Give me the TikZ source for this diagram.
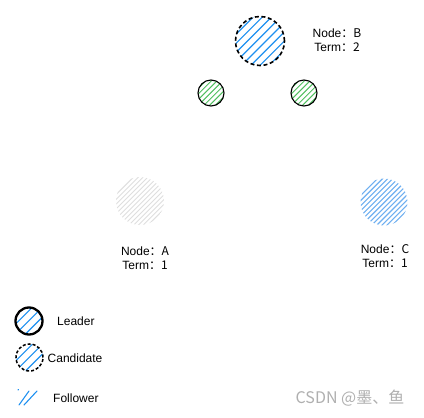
\documentclass[tikz,border=0pt]{standalone}
\usepackage{fontspec}
\setmainfont{Liberation Sans}
\newfontfamily\cjk{Noto Sans CJK SC}
\definecolor{hblue}{RGB}{30,144,240}
\definecolor{hlblue}{RGB}{110,175,240}
\definecolor{hgreen}{RGB}{80,190,95}
\definecolor{hgray}{RGB}{222,222,222}
\definecolor{wm}{RGB}{175,175,175}
\tikzset{
  hatchfill/.style 2 args={path picture={
    \foreach \k [evaluate=\k as \d using {-20+\k*#2/1.4142}] in {0,...,20}
      \draw[solid,#1,line cap=round] ([shift={({\d-45},{\d+45})}]path picture bounding box.center)
        -- ([shift={({\d+45},{\d-45})}]path picture bounding box.center);}},
  stnode/.style={circle,inner sep=0pt,minimum size=#1},
  lbl/.style={font=\fontsize{12}{14}\selectfont,align=center,inner sep=0pt},
  leglbl/.style={font=\fontsize{12}{14}\selectfont,anchor=west,inner sep=0pt}
}
\begin{document}
\begin{tikzpicture}[x=1pt,y=-1pt]
\useasboundingbox (0,0) rectangle (424,418);
% node B (candidate)
\node[stnode=49,draw=black,line width=1.6pt,dash pattern=on 4pt off 2.6pt,
      hatchfill={hblue,line width=1.2pt}{6.5}] (B) at (260,41) {};
\node[lbl] (Blbl) at (337,40.5) {Node\cjk{：}B\\Term\cjk{：}2};
% votes
\node[stnode=26,draw=black,line width=1.1pt,hatchfill={hgreen,line width=1pt}{4}] (g1) at (211,93) {};
\node[stnode=26,draw=black,line width=1.1pt,hatchfill={hgreen,line width=1pt}{4}] (g2) at (304,93) {};
% node A
\node[stnode=48,hatchfill={hgray,line width=0.9pt}{3.4}] (A) at (140,201) {};
\node[lbl] (Albl) at (145,258) {Node\cjk{：}A\\Term\cjk{：}1};
% node C
\node[stnode=47,hatchfill={hlblue,line width=1.1pt}{3.6}] (C) at (384,202) {};
\node[lbl] (Clbl) at (385,256) {Node\cjk{：}C\\Term\cjk{：}1};
% legend
\node[stnode=27,draw=black,line width=2.3pt,hatchfill={hblue,line width=1.1pt}{7}] (legL) at (29,321) {};
\node[leglbl] (legLt) at (57,321) {Leader};
\node[stnode=27,draw=black,line width=1.5pt,dash pattern=on 3pt off 2pt,hatchfill={hblue,line width=1.1pt}{7}] (legC) at (29.5,357.5) {};
\node[leglbl] (legCt) at (47.5,358) {Candidate};
\coordinate (legF) at (29,398);
\draw[hblue,line width=1.1pt,line cap=round] ([shift={(-10,7)}]legF) -- ([shift={(0,-7)}]legF);
\draw[hblue,line width=1.1pt,line cap=round] ([shift={(-5,7)}]legF) -- ([shift={(8,-7)}]legF);
\draw[hblue,line width=1.1pt,line cap=round] ([shift={(-11,-8)}]legF) -- ([shift={(-10.5,-8.5)}]legF);
\node[leglbl] (legFt) at (53,398) {Follower};
% watermark
\node[font=\cjk\fontsize{16}{18}\selectfont,text=wm,inner sep=0pt] (wmk) at (350,398.5) {CSDN @墨、鱼};
\end{tikzpicture}
\end{document}
